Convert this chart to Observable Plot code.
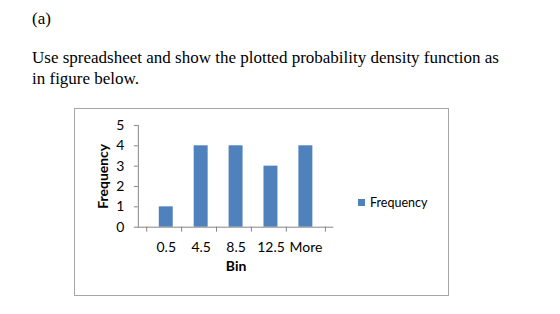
<!DOCTYPE html>
<html>
<head>
<meta charset="utf-8">
<script src="https://cdn.jsdelivr.net/npm/d3@7"></script>
<script src="https://cdn.jsdelivr.net/npm/@observablehq/plot@0.6"></script>
<style>
  html, body { margin: 0; padding: 0; background: #fff; width: 560px; height: 314px; overflow: hidden; }
  .txt { position: absolute; font-family: "Liberation Serif", "Times New Roman", serif; font-size: 17px; color: #000; white-space: nowrap; }
  #chart { position: absolute; left: 74px; top: 108px; width: 373px; height: 186px; border: 1.5px solid #a6a6a6; box-sizing: content-box; }
  #chart svg { position: absolute; left: 0; top: 0; }
  #chart svg g[aria-label="x-axis label"] text, #chart svg g[aria-label="y-axis label"] text { font-weight: bold; }
  #legend { position: absolute; left: 283px; top: 86px; font-family: Lato, sans-serif; font-size: 12.5px; color: #000; display: flex; align-items: center; }
  #legend .sw { width: 7px; height: 7px; background: #4f81bd; margin-right: 5px; }
</style>
</head>
<body>
<div class="txt" style="left:32px; top:9px;">(a)</div>
<div class="txt" style="left:32px; top:48px;">Use spreadsheet and show the plotted probability density function as</div>
<div class="txt" style="left:32px; top:69px;">in figure below.</div>
<div id="chart"></div>
<script>
const categories = ["0.5", "4.5", "8.5", "12.5", "More"];
const frequency = [1, 4, 4, 3, 4];
const yTicks = [0, 1, 2, 3, 4, 5];
const seriesName = "Frequency";

const data = categories.map((c, i) => ({bin: c, freq: frequency[i]}));

const W = 374, H = 187, mL = 63, mR = 115, mT = 16, mB = 69;
const bw = (W - mL - mR) / categories.length;
const axisColor = "#868686";

const chart = Plot.plot({
  width: W,
  height: H,
  marginLeft: mL,
  marginRight: mR,
  marginTop: mT,
  marginBottom: mB,
  style: {fontFamily: "Lato, sans-serif", fontSize: "14px", color: "#000", background: "transparent", overflow: "visible"},
  x: {domain: categories, padding: 0.6, align: 0.5},
  y: {domain: [0, 5], ticks: yTicks, tickFormat: d3.format("d")},
  marks: [
    Plot.barY(data, {x: "bin", y: "freq", fill: "#4f81bd"}),
    Plot.axisY({ticks: yTicks, tickFormat: d3.format("d"), tickSize: 4, tickPadding: 10, stroke: axisColor, fontSize: 14,
      label: "Frequency", labelAnchor: "center", labelArrow: "none", labelOffset: 40}),
    Plot.frame({anchor: "left", stroke: axisColor}),
    Plot.ruleY([0], {stroke: axisColor}),
    Plot.ruleX(categories, {x: d => d, y1: 0, y2: 0, dx: -bw / 2, insetBottom: -5, stroke: axisColor}),
    Plot.ruleX([categories[categories.length - 1]], {x: d => d, y1: 0, y2: 0, dx: bw / 2, insetBottom: -5, stroke: axisColor}),
    Plot.axisX({tickSize: 0, tickPadding: 15, fontSize: 14,
      label: "Bin", labelAnchor: "center", labelArrow: "none", labelOffset: 44})
  ]
});
document.getElementById("chart").appendChild(chart);

const leg = document.createElement("div");
leg.id = "legend";
leg.innerHTML = `<div class="sw"></div><span>${seriesName}</span>`;
document.getElementById("chart").appendChild(leg);
</script>
</body>
</html>
